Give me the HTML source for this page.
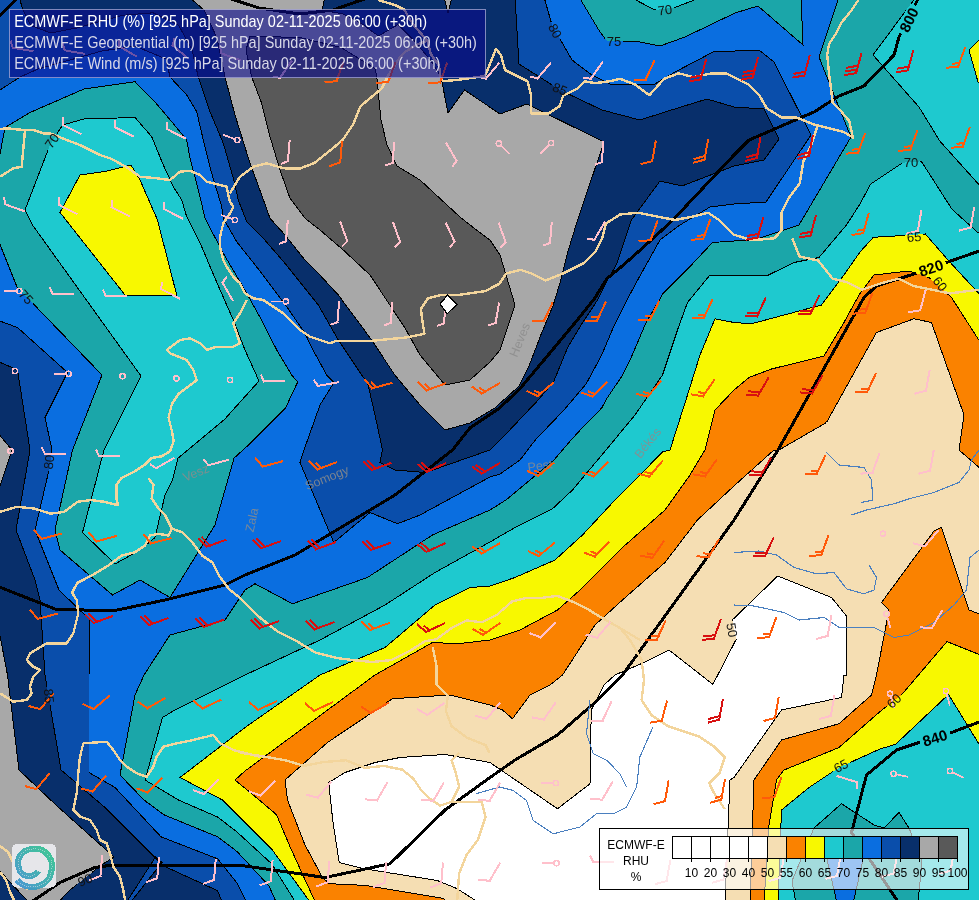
<!DOCTYPE html>
<html><head><meta charset="utf-8"><style>
html,body{margin:0;padding:0;background:#fff;}
svg{display:block;}
text{font-family:"Liberation Sans",sans-serif;}
svg text{opacity:0.999;}
</style></head><body>
<svg width="979" height="900" viewBox="0 0 979 900" shape-rendering="crispEdges">
<rect x="0" y="0" width="979" height="900" fill="#1ba6a9"/>
<polygon points="-3,-3 579,-3 600,32 607,41 640,42 660,46 685,37 735,13 758,6 803,45 801,-3 839,-3 819,57 836,100 851,137 799,225 754,240 734,241 712.5,242.5 690,266.5 663.2,293.3 646,322.7 631.4,356.9 621.6,376.5 606.9,398.5 601.7,408 580,430.3 571.1,440 554,460 530,480 506,500 490,510 432.5,535 367.5,577.5 292.5,603.75 255,583.75 245,590 225,620 170,635 144,675 135,695 120,775 144,800 163.7,814.7 217.6,836.8 237,851.5 269,885.8 276.5,903 -3,903" fill="#0a6ee0"/>
<polygon points="-3,-3 544,-3 552,25 572,60 592,75 610,84 655,84 675,72 715,51 735,51 759,50 774,62 811,135 766,202 734,204 710,207 680,225 660,240 641.1,273.8 626.5,300.7 614.3,325.1 601.7,355 586.4,383.5 564.9,409 535.3,440 520,460 500,474 490,477 420,515 397.5,523.75 370,512.5 333.75,542.5 327.5,527.5 300,462.5 304,450 320,405 334,382.5 326.7,375 313,350 305,333.3 286.7,306.7 261.7,273.3 236.7,241.7 223.3,218.3 221.7,206.7 211.7,173.3 203.3,140 196.7,111.7 186.7,95 170,77 166,59 135,46 102,51 38,69 20,77 -3,92" fill="#0a4eab"/>
<polygon points="-3,320 17.5,327.5 67.5,372.5 45,417.5 52,450 49,470 35,530 59,590 90,620 89,675 89,772.5 115,787.5 161,836.8 217.6,858.8 237,883 247,903 -3,903" fill="#0a4eab"/>
<polygon points="19,-3 515,-3 519,64 560,90 602,110 640,120 665,112 707,99 734,107 764,109 779,139 764,160 734,166 682,186 660,181 631.4,220 616.7,264 606.9,281.1 597.1,300.7 582.5,322.7 567.8,347.1 553.7,381.5 537.4,400.9 520,419.2 505,435 490,450 440,467.5 425,472.5 395,470 380,462.5 382.5,450 375,415 367.5,382.5 361.7,375 338.3,340 318.3,305 285,263.3 263.3,238.3 246.7,221.7 238.3,200 233.3,178.3 223.3,143.3 210,111.7 198.3,77 192,50 178.8,25.5 153,12.8 122.6,15.3 76.6,28 51,33 30.6,25.5 23,10" fill="#082f6b"/>
<polygon points="-3,361 17.5,370 30,450 16,530 35,580 40,600 45,675 61,770 105,807.5 155,857.5 163.7,866 217.6,890.7 222.5,903 -3,903" fill="#082f6b"/>
<polygon points="155.5,857 162,862.5 130,903 126,903" fill="#0a4eab"/>
<polygon points="189,-3 325,-3 322,10 343,14 361.5,23.5 378.4,36 398,24.5 414.4,40.8 430.7,60.5 441,77 448,113 464.5,90 500,114 527,104 604,142 577.6,220 567.8,251.8 560.5,281.1 553.1,305.6 540.9,334.9 528.7,366.7 518.9,386.3 494.4,408.3 470,423 445,430 420,405 394.8,375 371.7,340 338.3,295 318.3,273.3 303.3,258 285,235 270,218.3 261.7,195 250,163.3 235,115 225,77 217,38 204,10" fill="#a8a8a8"/>
<polygon points="444,-3 452,-3 448,13" fill="#a8a8a8"/>
<polygon points="-3,432 12,450 -3,495" fill="#a8a8a8"/>
<polygon points="-3,620 7.5,675 19,770 57,806 114,857 100,866 70,890 57.5,903 29.5,903 -3,868" fill="#a8a8a8"/>
<polygon points="250,36 300,37.6 340.8,47.4 375.2,68.6 376.8,77 381,120 387,145 397,166 420,180 460,217 470,225 490,240 500,255 515,305 500,350 490,362 470,380 445,385 420,355 405,328 370,275 343.3,250 320,230 305,218.3 290,198.3 280,170 270,136.7 261.7,103.3 251.7,77 246,50" fill="#595959"/>
<polygon points="-3,170 5,127.5 30,112.5 84,89 135,81.7 153.3,100 171.7,121.7 186.7,140 190,158.3 196.7,183.3 200.8,200 205,218.3 223.3,253.3 246.7,293.3 263.3,323.3 276.7,350 291.7,375 297.7,382 285.3,408.4 251.1,442.6 234,458.2 227.8,480 215,525 170,597.5 140,580 112.5,595 60,550 55,530 72.5,450 102,375 17,287 -3,237" fill="#1ba6a9"/>
<polygon points="84,119 135,117.5 151.7,136.7 163.3,165 173.3,186.7 181.7,200 186.7,216.7 201.7,246.7 215,278.3 233.3,320 245,350 259,381 224.6,419.3 178,458.2 172.6,480 165,495 155,537.5 140,550 115,564 82.5,532.5 104,450 141,376 32.5,225 25,210 50,145 62.5,125" fill="#1ec9cf"/>
<polygon points="80,175 107.5,171 131,165 140,180 157.5,220 176.7,295 125,295 60,212.5" fill="#f8f800"/>
<polygon points="916,-3 982,-3 982,188 940,141.3 919,107 873,55" fill="#1ec9cf"/>
<polygon points="630,-3 655,10 675,7.5 702,-3" fill="#1ec9cf"/>
<polygon points="982,37 969,50 978,82 982,82" fill="#f8f800"/>
<polygon points="982,232 977.3,232 952,209.3 921.3,161.3 902.7,162.7 870.7,184 860,204 846.5,225 819,257.5 794,262.5 766.5,276 734,275 710,275 687.5,302.5 677.5,330 662.5,375 635,415 606,450 572.5,490 552.5,508.75 515,527.5 490,542 435,572.5 385,605 320,640 245,675 175,710 162.5,717.5 145,780 178.4,800 217.6,817 237,832 271.6,863.7 296,903 982,903" fill="#1ec9cf"/>
<polygon points="796,903 792,881 814,828 841.5,803.75 874,825 884,828 899,812.5 909,828 922,861 918,903" fill="#1ba6a9"/>
<polygon points="826.7,858 863.3,858 853.2,903 837,903" fill="#0a6ee0"/>
<polygon points="982,297 948,260 925.3,234 906.7,235.3 873.3,237.3 860,252 844,275 821.5,305 751.5,323.75 734,322.5 715,318.75 700,355 687.5,395 670,450 662.5,452 635,480 615,500 582.5,535 555,560 515,577.5 490,586 470,587.5 435,605 385,647.5 320,675 245,727.5 180,777.5 222.5,800 237,814.7 271.6,849 310.8,903 778,903 781.5,810 809,787.5 839,767.5 880,749 895.6,744.3 948.5,694.5 982,749" fill="#f8f800"/>
<polygon points="235,780 245,771 375,675 432.5,642.5 457.5,643.75 490,640 520,630 557.5,610 580,590 622.5,547.5 665,510 690,475 705,450 715,410 734,390 749,377.5 771.5,369 824,356 844,322.5 859,295 874,275 909,271 929,277.5 951.5,297.5 982,345 982,655.6 947,641.6 901.8,694.5 880,711.6 839,747.5 784,770 776.5,780 769,825 764,903 315.7,903 291,849 276.5,814.7 259.3,800" fill="#fa8200"/>
<polygon points="285,780 327.5,742.5 392.5,698.75 450,695 490,705 502.5,710 512.5,718.75 530,695 550,685 562.5,675 595,625 622.5,600 665,562.5 697.5,520 735,485 774,450 779,450 826.5,422.5 876.5,332.5 914,318.75 931.5,322.5 964,415 959,450 982,470 982,615 969,610 941.5,527.5 934,531 881.5,602.5 889,610 876.5,675 871.5,695 839,723.75 781.5,740 754,780 750,903 447,903 443.8,898.4 365.4,885.4 329.4,883.7 322.5,877.5 305,845 287.5,800" fill="#f5deb3"/>
<polygon points="328.75,782.5 345,772.5 375,762.5 400,757.5 445,754.5 490,762.5 557.5,808.75 590,783.75 591.25,710 604,685 615,675 644,662.5 669,650 712.9,684.4 736.2,639.3 732.3,620 777.75,576 831.5,597.5 846.5,616 846.5,675 844,675 841.5,697.5 781.5,710 734,777.5 730,780 725,903 479.7,903 456.9,888.6 437.3,880.5 365.4,869 339.2,862.5 332.7,820" fill="#ffffff"/>
<mask id="lm" maskUnits="userSpaceOnUse" x="-10" y="-10" width="1000" height="920"><rect x="-10" y="-10" width="1000" height="920" fill="#fff"/>
<rect x="-15.75" y="-7" width="31.5" height="14" fill="#000" transform="translate(909,20) rotate(-64)"/>
<rect x="-15.75" y="-7" width="31.5" height="14" fill="#000" transform="translate(931,268) rotate(-19)"/>
<rect x="-15.75" y="-7" width="31.5" height="14" fill="#000" transform="translate(935,738) rotate(-17)"/>
<rect x="-9.2" y="-6" width="18.4" height="12" fill="#000" transform="translate(665,10) rotate(-8)"/>
<rect x="-9.2" y="-6" width="18.4" height="12" fill="#000" transform="translate(614,41) rotate(0)"/>
<rect x="-9.2" y="-6" width="18.4" height="12" fill="#000" transform="translate(555,31) rotate(62)"/>
<rect x="-9.2" y="-6" width="18.4" height="12" fill="#000" transform="translate(560,89) rotate(22)"/>
<rect x="-9.2" y="-6" width="18.4" height="12" fill="#000" transform="translate(911,162) rotate(0)"/>
<rect x="-9.2" y="-6" width="18.4" height="12" fill="#000" transform="translate(914,237) rotate(-5)"/>
<rect x="-9.2" y="-6" width="18.4" height="12" fill="#000" transform="translate(940,284) rotate(52)"/>
<rect x="-9.2" y="-6" width="18.4" height="12" fill="#000" transform="translate(26,297) rotate(48)"/>
<rect x="-9.2" y="-6" width="18.4" height="12" fill="#000" transform="translate(49,462) rotate(-82)"/>
<rect x="-9.2" y="-6" width="18.4" height="12" fill="#000" transform="translate(49,696) rotate(84)"/>
<rect x="-9.2" y="-6" width="18.4" height="12" fill="#000" transform="translate(732,630) rotate(80)"/>
<rect x="-9.2" y="-6" width="18.4" height="12" fill="#000" transform="translate(841,766) rotate(-28)"/>
<rect x="-9.2" y="-6" width="18.4" height="12" fill="#000" transform="translate(894,701) rotate(-42)"/>
<rect x="-9.2" y="-6" width="18.4" height="12" fill="#000" transform="translate(85,880) rotate(-22)"/>
<rect x="-9.2" y="-6" width="18.4" height="12" fill="#000" transform="translate(52,141) rotate(-55)"/>
</mask>
<g mask="url(#lm)">
<polygon points="-3,-3 579,-3 600,32 607,41 640,42 660,46 685,37 735,13 758,6 803,45 801,-3 839,-3 819,57 836,100 851,137 799,225 754,240 734,241 712.5,242.5 690,266.5 663.2,293.3 646,322.7 631.4,356.9 621.6,376.5 606.9,398.5 601.7,408 580,430.3 571.1,440 554,460 530,480 506,500 490,510 432.5,535 367.5,577.5 292.5,603.75 255,583.75 245,590 225,620 170,635 144,675 135,695 120,775 144,800 163.7,814.7 217.6,836.8 237,851.5 269,885.8 276.5,903 -3,903" fill="none" stroke="#000" stroke-width="1"/>
<polygon points="-3,-3 544,-3 552,25 572,60 592,75 610,84 655,84 675,72 715,51 735,51 759,50 774,62 811,135 766,202 734,204 710,207 680,225 660,240 641.1,273.8 626.5,300.7 614.3,325.1 601.7,355 586.4,383.5 564.9,409 535.3,440 520,460 500,474 490,477 420,515 397.5,523.75 370,512.5 333.75,542.5 327.5,527.5 300,462.5 304,450 320,405 334,382.5 326.7,375 313,350 305,333.3 286.7,306.7 261.7,273.3 236.7,241.7 223.3,218.3 221.7,206.7 211.7,173.3 203.3,140 196.7,111.7 186.7,95 170,77 166,59 135,46 102,51 38,69 20,77 -3,92" fill="none" stroke="#000" stroke-width="1"/>
<polygon points="-3,320 17.5,327.5 67.5,372.5 45,417.5 52,450 49,470 35,530 59,590 90,620 89,675 89,772.5 115,787.5 161,836.8 217.6,858.8 237,883 247,903 -3,903" fill="none" stroke="#000" stroke-width="1"/>
<polygon points="19,-3 515,-3 519,64 560,90 602,110 640,120 665,112 707,99 734,107 764,109 779,139 764,160 734,166 682,186 660,181 631.4,220 616.7,264 606.9,281.1 597.1,300.7 582.5,322.7 567.8,347.1 553.7,381.5 537.4,400.9 520,419.2 505,435 490,450 440,467.5 425,472.5 395,470 380,462.5 382.5,450 375,415 367.5,382.5 361.7,375 338.3,340 318.3,305 285,263.3 263.3,238.3 246.7,221.7 238.3,200 233.3,178.3 223.3,143.3 210,111.7 198.3,77 192,50 178.8,25.5 153,12.8 122.6,15.3 76.6,28 51,33 30.6,25.5 23,10" fill="none" stroke="#000" stroke-width="1"/>
<polygon points="-3,361 17.5,370 30,450 16,530 35,580 40,600 45,675 61,770 105,807.5 155,857.5 163.7,866 217.6,890.7 222.5,903 -3,903" fill="none" stroke="#000" stroke-width="1"/>
<polygon points="155.5,857 162,862.5 130,903 126,903" fill="none" stroke="#000" stroke-width="1"/>
<polygon points="189,-3 325,-3 322,10 343,14 361.5,23.5 378.4,36 398,24.5 414.4,40.8 430.7,60.5 441,77 448,113 464.5,90 500,114 527,104 604,142 577.6,220 567.8,251.8 560.5,281.1 553.1,305.6 540.9,334.9 528.7,366.7 518.9,386.3 494.4,408.3 470,423 445,430 420,405 394.8,375 371.7,340 338.3,295 318.3,273.3 303.3,258 285,235 270,218.3 261.7,195 250,163.3 235,115 225,77 217,38 204,10" fill="none" stroke="#000" stroke-width="1"/>
<polygon points="444,-3 452,-3 448,13" fill="none" stroke="#000" stroke-width="1"/>
<polygon points="-3,432 12,450 -3,495" fill="none" stroke="#000" stroke-width="1"/>
<polygon points="-3,620 7.5,675 19,770 57,806 114,857 100,866 70,890 57.5,903 29.5,903 -3,868" fill="none" stroke="#000" stroke-width="1"/>
<polygon points="250,36 300,37.6 340.8,47.4 375.2,68.6 376.8,77 381,120 387,145 397,166 420,180 460,217 470,225 490,240 500,255 515,305 500,350 490,362 470,380 445,385 420,355 405,328 370,275 343.3,250 320,230 305,218.3 290,198.3 280,170 270,136.7 261.7,103.3 251.7,77 246,50" fill="none" stroke="#000" stroke-width="1"/>
<polygon points="-3,170 5,127.5 30,112.5 84,89 135,81.7 153.3,100 171.7,121.7 186.7,140 190,158.3 196.7,183.3 200.8,200 205,218.3 223.3,253.3 246.7,293.3 263.3,323.3 276.7,350 291.7,375 297.7,382 285.3,408.4 251.1,442.6 234,458.2 227.8,480 215,525 170,597.5 140,580 112.5,595 60,550 55,530 72.5,450 102,375 17,287 -3,237" fill="none" stroke="#000" stroke-width="1"/>
<polygon points="84,119 135,117.5 151.7,136.7 163.3,165 173.3,186.7 181.7,200 186.7,216.7 201.7,246.7 215,278.3 233.3,320 245,350 259,381 224.6,419.3 178,458.2 172.6,480 165,495 155,537.5 140,550 115,564 82.5,532.5 104,450 141,376 32.5,225 25,210 50,145 62.5,125" fill="none" stroke="#000" stroke-width="1"/>
<polygon points="80,175 107.5,171 131,165 140,180 157.5,220 176.7,295 125,295 60,212.5" fill="none" stroke="#000" stroke-width="1"/>
<polygon points="916,-3 982,-3 982,188 940,141.3 919,107 873,55" fill="none" stroke="#000" stroke-width="1"/>
<polygon points="630,-3 655,10 675,7.5 702,-3" fill="none" stroke="#000" stroke-width="1"/>
<polygon points="982,37 969,50 978,82 982,82" fill="none" stroke="#000" stroke-width="1"/>
<polygon points="982,232 977.3,232 952,209.3 921.3,161.3 902.7,162.7 870.7,184 860,204 846.5,225 819,257.5 794,262.5 766.5,276 734,275 710,275 687.5,302.5 677.5,330 662.5,375 635,415 606,450 572.5,490 552.5,508.75 515,527.5 490,542 435,572.5 385,605 320,640 245,675 175,710 162.5,717.5 145,780 178.4,800 217.6,817 237,832 271.6,863.7 296,903 982,903" fill="none" stroke="#000" stroke-width="1"/>
<polygon points="796,903 792,881 814,828 841.5,803.75 874,825 884,828 899,812.5 909,828 922,861 918,903" fill="none" stroke="#000" stroke-width="1"/>
<polygon points="826.7,858 863.3,858 853.2,903 837,903" fill="none" stroke="#000" stroke-width="1"/>
<polygon points="982,297 948,260 925.3,234 906.7,235.3 873.3,237.3 860,252 844,275 821.5,305 751.5,323.75 734,322.5 715,318.75 700,355 687.5,395 670,450 662.5,452 635,480 615,500 582.5,535 555,560 515,577.5 490,586 470,587.5 435,605 385,647.5 320,675 245,727.5 180,777.5 222.5,800 237,814.7 271.6,849 310.8,903 778,903 781.5,810 809,787.5 839,767.5 880,749 895.6,744.3 948.5,694.5 982,749" fill="none" stroke="#000" stroke-width="1"/>
<polygon points="235,780 245,771 375,675 432.5,642.5 457.5,643.75 490,640 520,630 557.5,610 580,590 622.5,547.5 665,510 690,475 705,450 715,410 734,390 749,377.5 771.5,369 824,356 844,322.5 859,295 874,275 909,271 929,277.5 951.5,297.5 982,345 982,655.6 947,641.6 901.8,694.5 880,711.6 839,747.5 784,770 776.5,780 769,825 764,903 315.7,903 291,849 276.5,814.7 259.3,800" fill="none" stroke="#000" stroke-width="1"/>
<polygon points="285,780 327.5,742.5 392.5,698.75 450,695 490,705 502.5,710 512.5,718.75 530,695 550,685 562.5,675 595,625 622.5,600 665,562.5 697.5,520 735,485 774,450 779,450 826.5,422.5 876.5,332.5 914,318.75 931.5,322.5 964,415 959,450 982,470 982,615 969,610 941.5,527.5 934,531 881.5,602.5 889,610 876.5,675 871.5,695 839,723.75 781.5,740 754,780 750,903 447,903 443.8,898.4 365.4,885.4 329.4,883.7 322.5,877.5 305,845 287.5,800" fill="none" stroke="#000" stroke-width="1"/>
<polygon points="328.75,782.5 345,772.5 375,762.5 400,757.5 445,754.5 490,762.5 557.5,808.75 590,783.75 591.25,710 604,685 615,675 644,662.5 669,650 712.9,684.4 736.2,639.3 732.3,620 777.75,576 831.5,597.5 846.5,616 846.5,675 844,675 841.5,697.5 781.5,710 734,777.5 730,780 725,903 479.7,903 456.9,888.6 437.3,880.5 365.4,869 339.2,862.5 332.7,820" fill="none" stroke="#000" stroke-width="1"/>
<polyline points="-3,18 19,-3" fill="none" stroke="#000" stroke-width="3" stroke-linejoin="round"/>
<polyline points="225,-3 259,8 300,14 333,10 370,-3" fill="none" stroke="#000" stroke-width="3" stroke-linejoin="round"/>
<polyline points="919,-3 899,37 894,55 864,86 839,96 814,112 749,140 734,155 672.9,220 641.1,249.3 621.6,266.5 606.9,278.7 594.7,298.2 575.1,322.7 550.7,352 520,388.6 499.3,408.3 470,427.8 452.5,450 395,495 345,525 295,555 245,575 225,585 165,600 112.5,611 55,609 -3,586" fill="none" stroke="#000" stroke-width="3" stroke-linejoin="round"/>
<polyline points="982,250 946.5,262.5 914,274 876.5,286 864,297.5 778,450 734,520 622.5,675 595,702.5 557.5,735 515,760 490,777.5 445,810 390,863.75 325,877.5 245,866 217.6,865 112.5,865 95,867.5 60,882.5 30,903" fill="none" stroke="#000" stroke-width="3" stroke-linejoin="round"/>
<polyline points="982,721 951.5,732.5 919,742.5 896.5,750 866.5,775 851.5,832.5 899,903" fill="none" stroke="#000" stroke-width="3" stroke-linejoin="round"/>
</g>
<polyline points="851.5,515.0 866.5,510.0 894.0,503.8 909.0,498.8 934.0,492.5 959.0,482.5 969.0,470.0 971.5,460.0 979.0,450.0" fill="none" stroke="#4a7fbf" stroke-width="1.1" stroke-linejoin="round"/>
<polyline points="734.0,552.5 759.0,551.0 776.5,555.0 794.0,567.5 816.5,573.8 834.0,572.5 846.5,588.8 864.0,593.8 874.0,590.0 876.5,577.5 869.0,565.0" fill="none" stroke="#4a7fbf" stroke-width="1.1" stroke-linejoin="round"/>
<polyline points="734.0,605.0 754.0,606.0 784.0,612.5 799.0,620.0 824.0,617.5 839.0,627.5 874.0,627.5 894.0,637.5 909.0,635.0 934.0,622.5 954.0,605.0 966.5,590.0 970.0,557.5 979.0,550.0" fill="none" stroke="#4a7fbf" stroke-width="1.1" stroke-linejoin="round"/>
<polyline points="826.5,452.5 839.0,465.0 864.0,467.5 871.5,480.0 872.8,500.0 861.5,502.5" fill="none" stroke="#4a7fbf" stroke-width="1.1" stroke-linejoin="round"/>
<polyline points="476.3,793.7 499.7,787.0 513.0,790.4 526.4,800.4 533.1,820.4 553.1,833.8 579.8,827.1 596.5,813.8 613.2,813.8 626.6,807.1 636.6,787.0 639.9,757.0 653.0,726.9" fill="none" stroke="#4a7fbf" stroke-width="1.1" stroke-linejoin="round"/>
<polyline points="589.9,700.2 586.5,733.6 593.2,753.6 606.6,760.3 619.9,773.7 626.6,787.0" fill="none" stroke="#4a7fbf" stroke-width="1.1" stroke-linejoin="round"/>
<polyline points="0.0,129.0 6.7,128.3 23.3,130.0 33.3,130.0 43.3,133.3 50.0,133.3 58.3,136.7 66.7,140.0 80.0,145.0 90.0,150.0 100.0,155.0 110.0,158.3 116.7,161.7 126.7,167.3 140.0,176.7 156.7,178.3 170.0,180.0 180.0,171.7 190.0,170.7 200.0,175.0 206.7,181.7 220.0,185.0 226.7,186.7 228.3,195.0 230.0,201.7 233.3,206.7 230.0,213.3 223.3,223.3 220.0,236.7 220.0,246.7 223.3,260.0 226.7,266.7 233.3,276.7 240.0,283.3 245.0,293.3 253.3,298.3 263.3,300.0 273.3,306.7 283.3,313.3 290.0,320.0 300.0,330.0 310.0,336.7 330.0,343.4 335.6,340.9 371.1,340.9 406.7,337.4 424.5,333.8 422.7,323.2 420.9,309.0 428.0,298.3 442.2,294.7 460.0,294.7 484.9,291.2 499.1,284.0 506.3,273.4 520.5,269.8 531.1,273.4 545.4,280.5 563.2,273.4 584.5,262.7 595.2,252.0 602.3,237.8 605.8,223.6 620.0,214.5 638.3,212.7 656.7,216.4 675.0,220.0 693.3,216.4 708.0,212.7 719.0,220.0 733.7,234.7 752.0,240.2 774.0,238.4 781.3,231.0 781.3,212.7 788.7,198.0 799.7,183.4 803.4,161.3 810.7,146.7 818.0,124.7" fill="none" stroke="#f3d59c" stroke-width="2.4" stroke-linejoin="round"/>
<polyline points="230.0,193.3 240.0,176.7 253.3,166.7 266.7,163.3 283.3,168.3 300.0,168.5 314.2,163.1 332.0,148.9 342.7,140.0 353.3,124.0 360.5,106.2 371.1,97.3 381.8,88.4 388.9,74.2 394.2,67.1 397.8,60.0 405.0,52.0 416.0,45.0 427.5,40.8" fill="none" stroke="#f3d59c" stroke-width="2.4" stroke-linejoin="round"/>
<polyline points="25.0,130.0 21.7,166.7 13.3,168.3 0.0,176.7" fill="none" stroke="#f3d59c" stroke-width="2.4" stroke-linejoin="round"/>
<polyline points="246.7,300.0 240.0,313.3 233.3,323.3 236.7,333.3 240.0,343.3 233.3,346.7 216.7,346.7 206.7,350.0 200.0,343.3 190.0,338.3 180.0,340.0 166.7,350.0 170.0,353.3 186.7,360.0 193.3,370.0 196.7,380.0 192.1,383.8 178.6,393.9 171.9,404.0 168.5,417.5 171.9,431.0 173.6,441.1 170.2,451.2 161.8,456.3 151.7,458.0 144.9,464.7 134.8,471.4 121.3,478.2 116.3,484.9 116.3,498.4 118.0,505.2 104.5,501.8 91.0,500.1 77.5,501.8 64.0,511.9 50.6,513.6 33.7,508.5 16.9,506.8 0.0,511.9" fill="none" stroke="#f3d59c" stroke-width="2.4" stroke-linejoin="round"/>
<polyline points="148.3,478.2 153.4,484.9 151.7,498.4 158.4,508.5 165.1,515.3 171.9,528.7 168.5,535.5 158.4,533.8 150.0,535.5 144.9,545.6 134.8,552.3 121.3,555.7 107.9,565.8 91.0,575.9 77.5,582.7 72.0,592.8 76.7,600.0 78.3,613.3 73.3,633.3 66.7,643.3 46.7,643.3 30.0,653.3 26.7,660.0 33.3,666.7 40.0,670.0 33.3,676.7 30.0,686.7 31.7,693.3 26.7,700.0 13.3,701.7 0.0,693.3" fill="none" stroke="#f3d59c" stroke-width="2.4" stroke-linejoin="round"/>
<polyline points="171.9,528.7 182.0,532.1 192.1,542.2 202.2,555.7 212.3,562.4 219.1,575.9 229.2,589.4 240.0,597.8 258.9,616.7 277.8,631.8 296.7,641.2 315.6,652.6 338.2,658.2 353.3,660.1 372.2,662.0 391.1,660.1 410.0,650.7 425.1,641.2 436.4,639.3 451.6,628.0 466.7,620.4 481.8,622.3 496.9,614.8 512.0,601.6 527.1,597.8 542.2,597.8 557.3,595.9 572.4,601.6 587.6,609.1 600.0,616.7 620.0,628.0 640.0,640.0" fill="none" stroke="#f3d59c" stroke-width="2.4" stroke-linejoin="round"/>
<polyline points="432.7,646.9 436.4,665.8 436.4,684.7 447.8,696.0 445.9,711.1 451.6,726.2 466.7,737.6 485.6,745.1 489.3,752.7" fill="none" stroke="#f3d59c" stroke-width="2.4" stroke-linejoin="round"/>
<polyline points="240.0,752.7 262.7,756.4 285.3,760.2 304.2,765.9 323.1,762.1 345.8,760.2 364.7,767.8 383.6,765.9 402.4,769.7 413.8,779.1 421.3,790.5 428.9,798.0 440.2,805.6 451.6,801.8 459.1,786.7 455.3,771.6 451.6,760.2 459.1,752.7" fill="none" stroke="#f3d59c" stroke-width="2.4" stroke-linejoin="round"/>
<polyline points="451.6,801.8 466.7,801.8 481.8,801.8 485.6,816.9 478.0,839.6 466.7,854.7 459.1,873.6 457.2,900.0" fill="none" stroke="#f3d59c" stroke-width="2.4" stroke-linejoin="round"/>
<polyline points="83.3,743.3 106.7,741.7 113.3,750.0 120.0,760.0 126.7,766.7 136.7,773.3 146.7,776.7 153.3,766.7 156.7,756.7 163.3,746.7 176.7,743.3 193.3,740.0 206.7,736.7 213.3,735.0 220.0,743.3 233.3,750.0 246.7,753.3 260.0,756.7" fill="none" stroke="#f3d59c" stroke-width="2.4" stroke-linejoin="round"/>
<polyline points="83.3,743.3 80.0,756.7 78.3,773.3 76.7,793.3 73.3,810.0 80.0,816.7 90.0,820.0 96.7,830.0 100.0,840.0 106.7,843.3 110.0,853.3 113.3,866.7 120.0,876.7 123.3,890.0 125.0,900.0" fill="none" stroke="#f3d59c" stroke-width="2.4" stroke-linejoin="round"/>
<polyline points="641.6,700.0 652.0,715.6 667.6,726.0 683.2,731.2 698.8,736.4 714.4,746.8 724.8,757.2 719.6,772.8 709.2,783.2 714.4,793.6 724.8,809.2" fill="none" stroke="#f3d59c" stroke-width="2.4" stroke-linejoin="round"/>
<polyline points="620.0,628.0 630.0,640.0 641.6,660.0 644.0,680.0 641.6,700.0" fill="none" stroke="#f3d59c" stroke-width="2.4" stroke-linejoin="round"/>
<polyline points="527.6,81.3 531.1,95.6 531.1,113.3 548.9,113.3 559.6,106.2 563.2,95.6 577.4,88.4 584.5,81.3 595.2,83.1 609.4,81.3 620.0,78.8 634.7,84.3 649.3,95.3 664.0,78.8 678.7,73.3 693.3,77.0 711.7,73.3 726.3,73.3 737.3,78.8 748.3,84.3 759.3,95.3 766.7,108.2 781.3,117.3 796.0,117.3 814.4,124.7 829.0,128.3 843.7,132.0 852.9,137.5 849.2,121.0 840.0,110.0 832.7,102.7 830.9,88.0 829.0,73.3 827.2,55.0 829.0,44.0 836.4,33.0 841.9,22.0 851.0,11.0 858.4,0.0" fill="none" stroke="#f3d59c" stroke-width="2.4" stroke-linejoin="round"/>
<polyline points="442.0,81.3 460.0,79.6 485.0,76.0 496.0,49.0 501.0,55.0 505.0,70.0 512.0,73.5 527.6,81.3" fill="none" stroke="#f3d59c" stroke-width="2.4" stroke-linejoin="round"/>
<polyline points="378.0,0.0 395.0,5.0 404.6,9.8 407.8,16.3 414.4,26.1 427.5,40.8 430.7,53.9 438.9,65.4 440.5,76.8 442.0,81.3" fill="none" stroke="#f3d59c" stroke-width="2.4" stroke-linejoin="round"/>
<polyline points="792.3,238.4 799.7,256.7 818.0,260.4 832.7,278.7 847.4,282.4 862.0,289.7 884.0,282.4 898.7,278.7 913.4,286.0 931.7,289.7 950.0,293.4 979.0,289.7" fill="none" stroke="#f3d59c" stroke-width="2.4" stroke-linejoin="round"/>
<polyline points="0.0,846.0 8.0,852.0 14.0,864.0 22.0,878.0 28.0,890.0" fill="none" stroke="#f3d59c" stroke-width="2.4" stroke-linejoin="round"/>
<polyline points="0.0,872.0 6.0,880.0 10.0,892.0 14.0,900.0" fill="none" stroke="#f3d59c" stroke-width="2.4" stroke-linejoin="round"/>
<g transform="translate(520,340) rotate(-68)"><text x="0" y="4" text-anchor="middle" font-size="12.5" fill="#8c8c8c" fill-opacity="0.85">Heves</text></g>
<g transform="translate(648,443) rotate(-52)"><text x="0" y="4" text-anchor="middle" font-size="12.5" fill="#8c8c8c" fill-opacity="0.85">Békés</text></g>
<g transform="translate(540,466) rotate(-8)"><text x="0" y="4" text-anchor="middle" font-size="12.5" fill="#8c8c8c" fill-opacity="0.85">Pest</text></g>
<g transform="translate(327,478) rotate(-22)"><text x="0" y="4" text-anchor="middle" font-size="12.5" fill="#8c8c8c" fill-opacity="0.85">Somogy</text></g>
<g transform="translate(252,520) rotate(-78)"><text x="0" y="4" text-anchor="middle" font-size="12.5" fill="#8c8c8c" fill-opacity="0.85">Zala</text></g>
<g transform="translate(196,473) rotate(-22)"><text x="0" y="4" text-anchor="middle" font-size="12.5" fill="#8c8c8c" fill-opacity="0.85">Vesz</text></g>
<path d="M32.5,51.0 L12.7,47.9 M12.7,47.9 l-1.8,-6.2" fill="none" stroke="#ffc0cb" stroke-width="2" stroke-linecap="square"/>
<path d="M84.3,53.8 L64.6,50.3 M64.6,50.3 l-1.7,-6.3" fill="none" stroke="#ffc0cb" stroke-width="2" stroke-linecap="square"/>
<path d="M136.1,56.2 L118.8,46.2 M118.8,46.2 l0.6,-6.5" fill="none" stroke="#ffc0cb" stroke-width="2" stroke-linecap="square"/>
<path d="M187.9,58.3 L172.6,45.4 M172.6,45.4 l1.7,-6.3" fill="none" stroke="#ffc0cb" stroke-width="2" stroke-linecap="square"/>
<path d="M239.7,60.0 L220.9,53.2 M220.9,53.2 l-0.6,-6.5" fill="none" stroke="#ffc0cb" stroke-width="2" stroke-linecap="square"/>
<path d="M291.5,61.4 L280.0,77.8 M280.0,77.8 l-6.4,-1.1" fill="none" stroke="#ffc0cb" stroke-width="2" stroke-linecap="square"/>
<path d="M343.3,62.4 L336.5,81.2 M336.5,81.2 l-11.0,1.0" fill="none" stroke="#ff5a0a" stroke-width="2" stroke-linecap="square"/>
<path d="M395.1,63.1 L388.3,81.9 M388.3,81.9 l-11.0,1.0" fill="none" stroke="#ff5a0a" stroke-width="2" stroke-linecap="square"/>
<path d="M446.9,63.5 L440.1,82.3 M440.1,82.3 l-11.0,1.0" fill="none" stroke="#ff5a0a" stroke-width="2" stroke-linecap="square"/>
<path d="M498.7,63.5 L485.8,78.8 M485.8,78.8 l-6.3,-1.7" fill="none" stroke="#ffc0cb" stroke-width="2" stroke-linecap="square"/>
<path d="M550.5,63.1 L537.6,78.4 M537.6,78.4 l-6.3,-1.7" fill="none" stroke="#ffc0cb" stroke-width="2" stroke-linecap="square"/>
<path d="M602.3,62.4 L590.8,78.8 M590.8,78.8 l-6.4,-1.1" fill="none" stroke="#ffc0cb" stroke-width="2" stroke-linecap="square"/>
<path d="M654.1,61.4 L645.6,79.5 M645.6,79.5 l-11.0,0.0" fill="none" stroke="#ff5a0a" stroke-width="2" stroke-linecap="square"/>
<path d="M705.9,60.0 L700.7,79.3 M700.7,79.3 l-10.8,1.9 M701.7,75.6 l-10.8,1.9" fill="none" stroke="#d81010" stroke-width="2" stroke-linecap="square"/>
<path d="M757.7,58.3 L752.5,77.6 M752.5,77.6 l-10.8,1.9 M753.5,73.9 l-10.8,1.9 M754.5,70.2 l-10.8,1.9" fill="none" stroke="#d81010" stroke-width="2" stroke-linecap="square"/>
<path d="M809.5,56.2 L804.3,75.5 M804.3,75.5 l-10.8,1.9 M805.3,71.8 l-10.8,1.9" fill="none" stroke="#d81010" stroke-width="2" stroke-linecap="square"/>
<path d="M861.3,53.8 L856.1,73.1 M856.1,73.1 l-10.8,1.9 M857.1,69.4 l-10.8,1.9 M858.1,65.7 l-10.8,1.9" fill="none" stroke="#d81010" stroke-width="2" stroke-linecap="square"/>
<path d="M913.1,51.0 L907.9,70.3 M907.9,70.3 l-10.8,1.9 M908.9,66.6 l-10.8,1.9" fill="none" stroke="#d81010" stroke-width="2" stroke-linecap="square"/>
<path d="M964.9,47.9 L958.1,66.7 M958.1,66.7 l-11.0,1.0 M959.4,63.1 l-6.5,0.6" fill="none" stroke="#ff5a0a" stroke-width="2" stroke-linecap="square"/>
<path d="M80.4,133.8 L62.6,124.7 M62.6,124.7 l0.2,-6.5" fill="none" stroke="#ffc0cb" stroke-width="2" stroke-linecap="square"/>
<path d="M132.7,136.2 L114.9,127.1 M114.9,127.1 l0.2,-6.5" fill="none" stroke="#ffc0cb" stroke-width="2" stroke-linecap="square"/>
<path d="M185.0,138.3 L167.2,129.2 M167.2,129.2 l0.2,-6.5" fill="none" stroke="#ffc0cb" stroke-width="2" stroke-linecap="square"/>
<circle cx="237.3" cy="140.0" r="2.6" fill="none" stroke="#ffc0cb" stroke-width="1.6"/>
<line x1="234.9" y1="139.1" x2="223.2" y2="134.9" stroke="#ffc0cb" stroke-width="1.8"/>
<path d="M289.6,141.4 L287.9,161.3 M287.9,161.3 l-6.1,2.2" fill="none" stroke="#ffc0cb" stroke-width="2" stroke-linecap="square"/>
<path d="M341.9,142.4 L340.2,162.3 M340.2,162.3 l-10.3,3.8" fill="none" stroke="#ff5a0a" stroke-width="2" stroke-linecap="square"/>
<path d="M394.2,143.1 L392.5,163.0 M392.5,163.0 l-6.1,2.2" fill="none" stroke="#ffc0cb" stroke-width="2" stroke-linecap="square"/>
<path d="M446.5,143.5 L456.5,160.8 M456.5,160.8 l-3.7,5.3" fill="none" stroke="#ffc0cb" stroke-width="2" stroke-linecap="square"/>
<circle cx="498.8" cy="143.5" r="2.6" fill="none" stroke="#ffc0cb" stroke-width="1.6"/>
<line x1="500.6" y1="145.3" x2="509.4" y2="154.1" stroke="#ffc0cb" stroke-width="1.8"/>
<circle cx="551.1" cy="143.1" r="2.6" fill="none" stroke="#ffc0cb" stroke-width="1.6"/>
<line x1="549.3" y1="144.9" x2="540.5" y2="153.7" stroke="#ffc0cb" stroke-width="1.8"/>
<path d="M603.4,142.4 L601.7,162.3 M601.7,162.3 l-6.1,2.2" fill="none" stroke="#ffc0cb" stroke-width="2" stroke-linecap="square"/>
<path d="M655.7,141.4 L652.2,161.1 M652.2,161.1 l-10.6,2.8" fill="none" stroke="#ff5a0a" stroke-width="2" stroke-linecap="square"/>
<path d="M708.0,140.0 L704.5,159.7 M704.5,159.7 l-10.6,2.8 M705.2,156.0 l-10.6,2.8" fill="none" stroke="#ff5a0a" stroke-width="2" stroke-linecap="square"/>
<path d="M760.3,138.3 L756.8,158.0 M756.8,158.0 l-10.6,2.8 M757.5,154.2 l-10.6,2.8" fill="none" stroke="#d81010" stroke-width="2" stroke-linecap="square"/>
<path d="M812.6,136.2 L809.1,155.9 M809.1,155.9 l-10.6,2.8 M809.8,152.1 l-10.6,2.8" fill="none" stroke="#d81010" stroke-width="2" stroke-linecap="square"/>
<path d="M864.9,133.8 L858.1,152.6 M858.1,152.6 l-11.0,1.0 M859.4,149.0 l-6.5,0.6" fill="none" stroke="#ff5a0a" stroke-width="2" stroke-linecap="square"/>
<path d="M917.2,131.0 L910.4,149.8 M910.4,149.8 l-11.0,1.0 M911.7,146.2 l-6.5,0.6" fill="none" stroke="#ff5a0a" stroke-width="2" stroke-linecap="square"/>
<path d="M969.5,127.9 L962.7,146.7 M962.7,146.7 l-11.0,1.0 M964.0,143.1 l-6.5,0.6" fill="none" stroke="#ff5a0a" stroke-width="2" stroke-linecap="square"/>
<path d="M23.7,211.0 L4.9,204.2 M4.9,204.2 l-0.6,-6.5" fill="none" stroke="#ffc0cb" stroke-width="2" stroke-linecap="square"/>
<path d="M76.5,213.8 L58.7,204.7 M58.7,204.7 l0.2,-6.5" fill="none" stroke="#ffc0cb" stroke-width="2" stroke-linecap="square"/>
<path d="M129.3,216.2 L111.5,207.1 M111.5,207.1 l0.2,-6.5" fill="none" stroke="#ffc0cb" stroke-width="2" stroke-linecap="square"/>
<path d="M182.1,218.3 L164.3,209.2 M164.3,209.2 l0.2,-6.5" fill="none" stroke="#ffc0cb" stroke-width="2" stroke-linecap="square"/>
<circle cx="234.9" cy="220.0" r="2.6" fill="none" stroke="#ffc0cb" stroke-width="1.6"/>
<line x1="232.5" y1="219.1" x2="220.8" y2="214.9" stroke="#ffc0cb" stroke-width="1.8"/>
<path d="M287.7,221.4 L286.0,241.3 M286.0,241.3 l-6.1,2.2" fill="none" stroke="#ffc0cb" stroke-width="2" stroke-linecap="square"/>
<path d="M340.5,222.4 L347.3,241.2 M347.3,241.2 l-4.6,4.6" fill="none" stroke="#ffc0cb" stroke-width="2" stroke-linecap="square"/>
<path d="M393.3,223.1 L400.1,241.9 M400.1,241.9 l-4.6,4.6" fill="none" stroke="#ffc0cb" stroke-width="2" stroke-linecap="square"/>
<path d="M446.1,223.5 L454.6,241.6 M454.6,241.6 l-4.2,5.0" fill="none" stroke="#ffc0cb" stroke-width="2" stroke-linecap="square"/>
<path d="M498.9,223.5 L505.7,242.3 M505.7,242.3 l-4.6,4.6" fill="none" stroke="#ffc0cb" stroke-width="2" stroke-linecap="square"/>
<path d="M551.7,223.1 L550.0,243.0 M550.0,243.0 l-6.1,2.2" fill="none" stroke="#ffc0cb" stroke-width="2" stroke-linecap="square"/>
<path d="M604.5,222.4 L594.5,239.7 M594.5,239.7 l-6.5,-0.6" fill="none" stroke="#ffc0cb" stroke-width="2" stroke-linecap="square"/>
<path d="M657.3,221.4 L650.5,240.2 M650.5,240.2 l-11.0,1.0" fill="none" stroke="#ff5a0a" stroke-width="2" stroke-linecap="square"/>
<path d="M710.1,220.0 L703.3,238.8 M703.3,238.8 l-11.0,1.0 M704.6,235.2 l-6.5,0.6" fill="none" stroke="#ff5a0a" stroke-width="2" stroke-linecap="square"/>
<path d="M762.9,218.3 L757.7,237.6 M757.7,237.6 l-10.8,1.9 M758.7,233.9 l-10.8,1.9" fill="none" stroke="#d81010" stroke-width="2" stroke-linecap="square"/>
<path d="M815.7,216.2 L810.5,235.5 M810.5,235.5 l-10.8,1.9 M811.5,231.8 l-10.8,1.9" fill="none" stroke="#d81010" stroke-width="2" stroke-linecap="square"/>
<path d="M868.5,213.8 L863.3,233.1 M863.3,233.1 l-10.8,1.9 M864.3,229.4 l-6.4,1.1" fill="none" stroke="#ff5a0a" stroke-width="2" stroke-linecap="square"/>
<path d="M921.3,211.0 L917.8,230.7 M917.8,230.7 l-10.6,2.8" fill="none" stroke="#ffc0cb" stroke-width="2" stroke-linecap="square"/>
<path d="M974.1,207.9 L970.6,227.6 M970.6,227.6 l-10.6,2.8" fill="none" stroke="#ffc0cb" stroke-width="2" stroke-linecap="square"/>
<circle cx="19.3" cy="291.0" r="2.6" fill="none" stroke="#ffc0cb" stroke-width="1.6"/>
<line x1="16.7" y1="291.0" x2="4.3" y2="291.0" stroke="#ffc0cb" stroke-width="1.8"/>
<path d="M72.6,293.8 L52.6,293.8 M52.6,293.8 l-2.7,-5.9" fill="none" stroke="#ffc0cb" stroke-width="2" stroke-linecap="square"/>
<path d="M125.9,296.2 L105.9,296.2 M105.9,296.2 l-2.7,-5.9" fill="none" stroke="#ffc0cb" stroke-width="2" stroke-linecap="square"/>
<path d="M179.2,298.3 L161.4,289.2 M161.4,289.2 l0.2,-6.5" fill="none" stroke="#ffc0cb" stroke-width="2" stroke-linecap="square"/>
<path d="M232.5,300.0 L222.5,282.7 M222.5,282.7 l3.7,-5.3" fill="none" stroke="#ffc0cb" stroke-width="2" stroke-linecap="square"/>
<circle cx="285.8" cy="301.4" r="2.6" fill="none" stroke="#ffc0cb" stroke-width="1.6"/>
<line x1="283.2" y1="301.4" x2="270.8" y2="301.4" stroke="#ffc0cb" stroke-width="1.8"/>
<path d="M339.1,302.4 L337.4,322.3 M337.4,322.3 l-6.1,2.2" fill="none" stroke="#ffc0cb" stroke-width="2" stroke-linecap="square"/>
<path d="M392.4,303.1 L390.7,323.0 M390.7,323.0 l-6.1,2.2" fill="none" stroke="#ffc0cb" stroke-width="2" stroke-linecap="square"/>
<path d="M445.7,303.5 L444.0,323.4 M444.0,323.4 l-6.1,2.2" fill="none" stroke="#ffc0cb" stroke-width="2" stroke-linecap="square"/>
<path d="M499.0,303.5 L495.5,323.2 M495.5,323.2 l-6.3,1.7" fill="none" stroke="#ffc0cb" stroke-width="2" stroke-linecap="square"/>
<path d="M552.3,303.1 L543.8,321.2 M543.8,321.2 l-11.0,0.0" fill="none" stroke="#ff5a0a" stroke-width="2" stroke-linecap="square"/>
<path d="M605.6,302.4 L597.1,320.5 M597.1,320.5 l-11.0,0.0 M598.8,317.1 l-6.5,0.0" fill="none" stroke="#ff5a0a" stroke-width="2" stroke-linecap="square"/>
<path d="M658.9,301.4 L650.4,319.5 M650.4,319.5 l-11.0,0.0 M652.1,316.1 l-6.5,0.0" fill="none" stroke="#ff5a0a" stroke-width="2" stroke-linecap="square"/>
<path d="M712.2,300.0 L703.7,318.1 M703.7,318.1 l-11.0,0.0 M705.4,314.7 l-6.5,0.0" fill="none" stroke="#ff5a0a" stroke-width="2" stroke-linecap="square"/>
<path d="M765.5,298.3 L757.0,316.4 M757.0,316.4 l-11.0,0.0 M758.7,312.9 l-11.0,0.0" fill="none" stroke="#d81010" stroke-width="2" stroke-linecap="square"/>
<path d="M818.8,296.2 L810.3,314.3 M810.3,314.3 l-11.0,0.0 M812.0,310.9 l-11.0,0.0" fill="none" stroke="#d81010" stroke-width="2" stroke-linecap="square"/>
<path d="M872.1,293.8 L865.3,312.6 M865.3,312.6 l-11.0,1.0 M866.6,309.0 l-6.5,0.6" fill="none" stroke="#ff5a0a" stroke-width="2" stroke-linecap="square"/>
<path d="M925.4,291.0 L920.2,310.3 M920.2,310.3 l-10.8,1.9" fill="none" stroke="#ffc0cb" stroke-width="2" stroke-linecap="square"/>
<circle cx="14.9" cy="371.0" r="2.6" fill="none" stroke="#ffc0cb" stroke-width="1.6"/>
<circle cx="68.7" cy="373.8" r="2.6" fill="none" stroke="#ffc0cb" stroke-width="1.6"/>
<line x1="66.1" y1="373.8" x2="53.7" y2="373.8" stroke="#ffc0cb" stroke-width="1.8"/>
<circle cx="122.5" cy="376.2" r="2.6" fill="none" stroke="#ffc0cb" stroke-width="1.6"/>
<circle cx="176.3" cy="378.3" r="2.6" fill="none" stroke="#ffc0cb" stroke-width="1.6"/>
<circle cx="230.1" cy="380.0" r="2.6" fill="none" stroke="#ffc0cb" stroke-width="1.6"/>
<path d="M283.9,381.4 L263.9,381.4 M263.9,381.4 l-2.7,-5.9" fill="none" stroke="#ffc0cb" stroke-width="2" stroke-linecap="square"/>
<path d="M337.7,382.4 L318.0,385.9 M318.0,385.9 l-3.7,-5.3" fill="none" stroke="#ffc0cb" stroke-width="2" stroke-linecap="square"/>
<path d="M391.5,383.1 L372.2,388.3 M372.2,388.3 l-7.1,-8.4 M375.9,387.3 l-4.2,-5.0" fill="none" stroke="#ff5a0a" stroke-width="2" stroke-linecap="square"/>
<path d="M445.3,383.5 L426.5,390.3 M426.5,390.3 l-7.8,-7.8 M430.1,389.0 l-4.6,-4.6" fill="none" stroke="#ff5a0a" stroke-width="2" stroke-linecap="square"/>
<path d="M499.1,383.5 L481.8,393.5 M481.8,393.5 l-9.0,-6.3 M485.1,391.6 l-5.3,-3.7" fill="none" stroke="#ff5a0a" stroke-width="2" stroke-linecap="square"/>
<path d="M552.9,383.1 L537.6,396.0 M537.6,396.0 l-10.0,-4.6 M540.5,393.5 l-5.9,-2.7" fill="none" stroke="#ff5a0a" stroke-width="2" stroke-linecap="square"/>
<path d="M606.7,382.4 L592.6,396.6 M592.6,396.6 l-10.3,-3.8 M595.2,393.9 l-6.1,-2.2" fill="none" stroke="#ff5a0a" stroke-width="2" stroke-linecap="square"/>
<path d="M660.5,381.4 L647.6,396.7 M647.6,396.7 l-10.6,-2.8 M650.1,393.8 l-6.3,-1.7" fill="none" stroke="#ff5a0a" stroke-width="2" stroke-linecap="square"/>
<path d="M714.3,380.0 L702.8,396.4 M702.8,396.4 l-10.8,-1.9 M705.0,393.3 l-6.4,-1.1" fill="none" stroke="#ff5a0a" stroke-width="2" stroke-linecap="square"/>
<path d="M768.1,378.3 L758.1,395.6 M758.1,395.6 l-11.0,-1.0 M760.0,392.3 l-11.0,-1.0" fill="none" stroke="#d81010" stroke-width="2" stroke-linecap="square"/>
<path d="M821.9,376.2 L811.9,393.5 M811.9,393.5 l-11.0,-1.0 M813.8,390.2 l-11.0,-1.0" fill="none" stroke="#d81010" stroke-width="2" stroke-linecap="square"/>
<path d="M875.7,373.8 L867.2,391.9 M867.2,391.9 l-11.0,0.0 M868.9,388.5 l-6.5,0.0" fill="none" stroke="#ff5a0a" stroke-width="2" stroke-linecap="square"/>
<path d="M929.5,371.0 L926.0,390.7 M926.0,390.7 l-10.6,2.8" fill="none" stroke="#ffc0cb" stroke-width="2" stroke-linecap="square"/>
<circle cx="10.5" cy="451.0" r="2.6" fill="none" stroke="#ffc0cb" stroke-width="1.6"/>
<path d="M64.8,453.8 L44.8,453.8 M44.8,453.8 l-2.7,-5.9" fill="none" stroke="#ffc0cb" stroke-width="2" stroke-linecap="square"/>
<path d="M119.1,456.2 L99.1,456.2 M99.1,456.2 l-2.7,-5.9" fill="none" stroke="#ffc0cb" stroke-width="2" stroke-linecap="square"/>
<path d="M173.4,458.3 L156.1,468.3 M156.1,468.3 l-5.3,-3.7" fill="none" stroke="#ffc0cb" stroke-width="2" stroke-linecap="square"/>
<path d="M227.7,460.0 L208.4,465.2 M208.4,465.2 l-4.2,-5.0" fill="none" stroke="#ffc0cb" stroke-width="2" stroke-linecap="square"/>
<path d="M282.0,461.4 L262.7,466.6 M262.7,466.6 l-7.1,-8.4" fill="none" stroke="#ff5a0a" stroke-width="2" stroke-linecap="square"/>
<path d="M336.3,462.4 L317.5,469.3 M317.5,469.3 l-7.8,-7.8 M321.1,468.0 l-4.6,-4.6" fill="none" stroke="#ff5a0a" stroke-width="2" stroke-linecap="square"/>
<path d="M390.6,463.1 L371.8,470.0 M371.8,470.0 l-7.8,-7.8 M375.4,468.7 l-7.8,-7.8" fill="none" stroke="#d81010" stroke-width="2" stroke-linecap="square"/>
<path d="M444.9,463.5 L426.8,471.9 M426.8,471.9 l-8.4,-7.1 M430.2,470.3 l-8.4,-7.1" fill="none" stroke="#d81010" stroke-width="2" stroke-linecap="square"/>
<path d="M499.2,463.5 L481.9,473.5 M481.9,473.5 l-9.0,-6.3 M485.2,471.6 l-9.0,-6.3" fill="none" stroke="#d81010" stroke-width="2" stroke-linecap="square"/>
<path d="M553.5,463.1 L538.2,476.0 M538.2,476.0 l-10.0,-4.6 M541.1,473.5 l-5.9,-2.7" fill="none" stroke="#ff5a0a" stroke-width="2" stroke-linecap="square"/>
<path d="M607.8,462.4 L593.7,476.6 M593.7,476.6 l-10.3,-3.8 M596.3,473.9 l-6.1,-2.2" fill="none" stroke="#ff5a0a" stroke-width="2" stroke-linecap="square"/>
<path d="M662.1,461.4 L649.2,476.7 M649.2,476.7 l-10.6,-2.8 M651.7,473.8 l-6.3,-1.7" fill="none" stroke="#ff5a0a" stroke-width="2" stroke-linecap="square"/>
<path d="M716.4,460.0 L704.9,476.4 M704.9,476.4 l-10.8,-1.9 M707.1,473.3 l-6.4,-1.1" fill="none" stroke="#ff5a0a" stroke-width="2" stroke-linecap="square"/>
<path d="M770.7,458.3 L760.7,475.6 M760.7,475.6 l-11.0,-1.0 M762.6,472.3 l-11.0,-1.0" fill="none" stroke="#d81010" stroke-width="2" stroke-linecap="square"/>
<path d="M825.0,456.2 L816.5,474.3 M816.5,474.3 l-11.0,0.0 M818.2,470.9 l-6.5,0.0" fill="none" stroke="#ff5a0a" stroke-width="2" stroke-linecap="square"/>
<path d="M879.3,453.8 L872.5,472.6 M872.5,472.6 l-11.0,1.0" fill="none" stroke="#ffc0cb" stroke-width="2" stroke-linecap="square"/>
<path d="M933.6,451.0 L930.1,470.7 M930.1,470.7 l-10.6,2.8" fill="none" stroke="#ffc0cb" stroke-width="2" stroke-linecap="square"/>
<path d="M60.9,533.8 L41.6,538.9 M41.6,538.9 l-7.1,-8.4" fill="none" stroke="#ff5a0a" stroke-width="2" stroke-linecap="square"/>
<path d="M115.7,536.2 L96.4,541.4 M96.4,541.4 l-7.1,-8.4" fill="none" stroke="#ff5a0a" stroke-width="2" stroke-linecap="square"/>
<path d="M170.5,538.3 L151.2,543.4 M151.2,543.4 l-7.1,-8.4" fill="none" stroke="#ff5a0a" stroke-width="2" stroke-linecap="square"/>
<path d="M225.3,540.0 L206.5,546.8 M206.5,546.8 l-7.8,-7.8 M210.1,545.5 l-7.8,-7.8" fill="none" stroke="#d81010" stroke-width="2" stroke-linecap="square"/>
<path d="M280.1,541.4 L261.3,548.2 M261.3,548.2 l-7.8,-7.8 M264.9,546.9 l-7.8,-7.8" fill="none" stroke="#d81010" stroke-width="2" stroke-linecap="square"/>
<path d="M334.9,542.4 L316.1,549.3 M316.1,549.3 l-7.8,-7.8 M319.7,548.0 l-7.8,-7.8" fill="none" stroke="#d81010" stroke-width="2" stroke-linecap="square"/>
<path d="M389.7,543.1 L370.9,550.0 M370.9,550.0 l-7.8,-7.8 M374.5,548.7 l-7.8,-7.8" fill="none" stroke="#d81010" stroke-width="2" stroke-linecap="square"/>
<path d="M444.5,543.5 L426.4,551.9 M426.4,551.9 l-8.4,-7.1 M429.8,550.3 l-8.4,-7.1" fill="none" stroke="#d81010" stroke-width="2" stroke-linecap="square"/>
<path d="M499.3,543.5 L482.0,553.5 M482.0,553.5 l-9.0,-6.3 M485.3,551.6 l-5.3,-3.7" fill="none" stroke="#ff5a0a" stroke-width="2" stroke-linecap="square"/>
<path d="M554.1,543.1 L538.8,556.0 M538.8,556.0 l-10.0,-4.6 M541.7,553.5 l-5.9,-2.7" fill="none" stroke="#ff5a0a" stroke-width="2" stroke-linecap="square"/>
<path d="M608.9,542.4 L594.8,556.6 M594.8,556.6 l-10.3,-3.8 M597.4,553.9 l-6.1,-2.2" fill="none" stroke="#ff5a0a" stroke-width="2" stroke-linecap="square"/>
<path d="M663.7,541.4 L652.2,557.8 M652.2,557.8 l-10.8,-1.9 M654.4,554.7 l-6.4,-1.1" fill="none" stroke="#ff5a0a" stroke-width="2" stroke-linecap="square"/>
<path d="M718.5,540.0 L708.5,557.3 M708.5,557.3 l-11.0,-1.0 M710.4,554.0 l-6.5,-0.6" fill="none" stroke="#ff5a0a" stroke-width="2" stroke-linecap="square"/>
<path d="M773.3,538.3 L764.8,556.4 M764.8,556.4 l-11.0,0.0 M766.5,552.9 l-11.0,0.0" fill="none" stroke="#d81010" stroke-width="2" stroke-linecap="square"/>
<path d="M828.1,536.2 L821.3,555.0 M821.3,555.0 l-11.0,1.0 M822.6,551.4 l-6.5,0.6" fill="none" stroke="#ff5a0a" stroke-width="2" stroke-linecap="square"/>
<circle cx="882.9" cy="533.8" r="2.6" fill="none" stroke="#ffc0cb" stroke-width="1.6"/>
<path d="M937.7,531.0 L924.8,546.3 M924.8,546.3 l-10.6,-2.8" fill="none" stroke="#ffc0cb" stroke-width="2" stroke-linecap="square"/>
<path d="M57.0,613.8 L37.7,618.9 M37.7,618.9 l-7.1,-8.4" fill="none" stroke="#ff5a0a" stroke-width="2" stroke-linecap="square"/>
<path d="M112.3,616.2 L93.5,623.0 M93.5,623.0 l-7.8,-7.8 M97.1,621.7 l-7.8,-7.8" fill="none" stroke="#d81010" stroke-width="2" stroke-linecap="square"/>
<path d="M167.6,618.3 L148.8,625.1 M148.8,625.1 l-7.8,-7.8 M152.4,623.8 l-7.8,-7.8" fill="none" stroke="#d81010" stroke-width="2" stroke-linecap="square"/>
<path d="M222.9,620.0 L204.1,626.8 M204.1,626.8 l-7.8,-7.8 M207.7,625.5 l-7.8,-7.8" fill="none" stroke="#d81010" stroke-width="2" stroke-linecap="square"/>
<path d="M278.2,621.4 L259.4,628.2 M259.4,628.2 l-7.8,-7.8 M263.0,626.9 l-7.8,-7.8" fill="none" stroke="#d81010" stroke-width="2" stroke-linecap="square"/>
<path d="M333.5,622.4 L314.7,629.3 M314.7,629.3 l-7.8,-7.8 M318.3,628.0 l-7.8,-7.8" fill="none" stroke="#d81010" stroke-width="2" stroke-linecap="square"/>
<path d="M388.8,623.1 L370.0,630.0 M370.0,630.0 l-7.8,-7.8 M373.6,628.7 l-4.6,-4.6" fill="none" stroke="#ff5a0a" stroke-width="2" stroke-linecap="square"/>
<path d="M444.1,623.5 L426.0,631.9 M426.0,631.9 l-8.4,-7.1 M429.4,630.3 l-5.0,-4.2" fill="none" stroke="#d81010" stroke-width="2" stroke-linecap="square"/>
<path d="M499.4,623.5 L483.0,634.9 M483.0,634.9 l-9.5,-5.5 M486.1,632.7 l-5.6,-3.3" fill="none" stroke="#ff5a0a" stroke-width="2" stroke-linecap="square"/>
<path d="M554.7,623.1 L540.6,637.3 M540.6,637.3 l-10.3,-3.8" fill="none" stroke="#ffc0cb" stroke-width="2" stroke-linecap="square"/>
<path d="M610.0,622.4 L597.1,637.7 M597.1,637.7 l-10.6,-2.8" fill="none" stroke="#ffc0cb" stroke-width="2" stroke-linecap="square"/>
<path d="M665.3,621.4 L656.8,639.5 M656.8,639.5 l-11.0,0.0 M658.5,636.1 l-6.5,0.0" fill="none" stroke="#ff5a0a" stroke-width="2" stroke-linecap="square"/>
<path d="M720.6,620.0 L713.8,638.8 M713.8,638.8 l-11.0,1.0 M715.1,635.2 l-11.0,1.0" fill="none" stroke="#d81010" stroke-width="2" stroke-linecap="square"/>
<path d="M775.9,618.3 L769.1,637.1 M769.1,637.1 l-11.0,1.0 M770.4,633.5 l-6.5,0.6" fill="none" stroke="#ff5a0a" stroke-width="2" stroke-linecap="square"/>
<path d="M831.2,616.2 L827.7,635.9 M827.7,635.9 l-10.6,2.8" fill="none" stroke="#ffc0cb" stroke-width="2" stroke-linecap="square"/>
<circle cx="886.5" cy="613.8" r="2.6" fill="none" stroke="#ffc0cb" stroke-width="1.6"/>
<line x1="887.2" y1="616.3" x2="890.4" y2="628.3" stroke="#ffc0cb" stroke-width="1.8"/>
<path d="M941.8,611.0 L931.8,628.3 M931.8,628.3 l-11.0,-1.0" fill="none" stroke="#ffc0cb" stroke-width="2" stroke-linecap="square"/>
<path d="M53.1,693.8 L40.2,709.1 M40.2,709.1 l-10.6,-2.8" fill="none" stroke="#ff5a0a" stroke-width="2" stroke-linecap="square"/>
<path d="M108.9,696.2 L93.6,709.0 M93.6,709.0 l-10.0,-4.6" fill="none" stroke="#ff5a0a" stroke-width="2" stroke-linecap="square"/>
<path d="M164.7,698.3 L147.4,708.3 M147.4,708.3 l-9.0,-6.3" fill="none" stroke="#ff5a0a" stroke-width="2" stroke-linecap="square"/>
<path d="M220.5,700.0 L202.4,708.4 M202.4,708.4 l-8.4,-7.1" fill="none" stroke="#ff5a0a" stroke-width="2" stroke-linecap="square"/>
<path d="M276.3,701.4 L258.2,709.8 M258.2,709.8 l-8.4,-7.1" fill="none" stroke="#ff5a0a" stroke-width="2" stroke-linecap="square"/>
<path d="M332.1,702.4 L314.0,710.9 M314.0,710.9 l-8.4,-7.1" fill="none" stroke="#ff5a0a" stroke-width="2" stroke-linecap="square"/>
<path d="M387.9,703.1 L370.6,713.1 M370.6,713.1 l-9.0,-6.3" fill="none" stroke="#ff5a0a" stroke-width="2" stroke-linecap="square"/>
<path d="M443.7,703.5 L427.3,714.9 M427.3,714.9 l-9.5,-5.5" fill="none" stroke="#ffc0cb" stroke-width="2" stroke-linecap="square"/>
<path d="M499.5,703.5 L486.6,718.8 M486.6,718.8 l-10.6,-2.8" fill="none" stroke="#ffc0cb" stroke-width="2" stroke-linecap="square"/>
<path d="M555.3,703.1 L543.8,719.5 M543.8,719.5 l-10.8,-1.9" fill="none" stroke="#ffc0cb" stroke-width="2" stroke-linecap="square"/>
<path d="M611.1,702.4 L602.6,720.5 M602.6,720.5 l-11.0,0.0" fill="none" stroke="#ffc0cb" stroke-width="2" stroke-linecap="square"/>
<path d="M666.9,701.4 L661.7,720.7 M661.7,720.7 l-10.8,1.9" fill="none" stroke="#ff5a0a" stroke-width="2" stroke-linecap="square"/>
<path d="M722.7,700.0 L719.2,719.7 M719.2,719.7 l-10.6,2.8 M719.9,716.0 l-10.6,2.8" fill="none" stroke="#d81010" stroke-width="2" stroke-linecap="square"/>
<path d="M778.5,698.3 L775.0,718.0 M775.0,718.0 l-10.6,2.8" fill="none" stroke="#ff5a0a" stroke-width="2" stroke-linecap="square"/>
<path d="M834.3,696.2 L830.8,715.9 M830.8,715.9 l-10.6,2.8" fill="none" stroke="#ffc0cb" stroke-width="2" stroke-linecap="square"/>
<circle cx="890.1" cy="693.8" r="2.6" fill="none" stroke="#ffc0cb" stroke-width="1.6"/>
<line x1="890.8" y1="696.3" x2="894.0" y2="708.3" stroke="#ffc0cb" stroke-width="1.8"/>
<circle cx="945.9" cy="691.0" r="2.6" fill="none" stroke="#ffc0cb" stroke-width="1.6"/>
<line x1="946.6" y1="693.5" x2="949.8" y2="705.5" stroke="#ffc0cb" stroke-width="1.8"/>
<path d="M49.2,773.8 L36.3,789.1 M36.3,789.1 l-10.6,-2.8" fill="none" stroke="#ff5a0a" stroke-width="2" stroke-linecap="square"/>
<path d="M105.5,776.2 L92.6,791.5 M92.6,791.5 l-10.6,-2.8" fill="none" stroke="#ff5a0a" stroke-width="2" stroke-linecap="square"/>
<path d="M161.8,778.3 L147.7,792.4 M147.7,792.4 l-10.3,-3.8" fill="none" stroke="#ff5a0a" stroke-width="2" stroke-linecap="square"/>
<path d="M218.1,780.0 L204.0,794.1 M204.0,794.1 l-10.3,-3.8" fill="none" stroke="#ffc0cb" stroke-width="2" stroke-linecap="square"/>
<path d="M274.4,781.4 L260.3,795.5 M260.3,795.5 l-10.3,-3.8" fill="none" stroke="#ffc0cb" stroke-width="2" stroke-linecap="square"/>
<path d="M330.7,782.4 L317.8,797.7 M317.8,797.7 l-10.6,-2.8" fill="none" stroke="#ffc0cb" stroke-width="2" stroke-linecap="square"/>
<path d="M387.0,783.1 L377.0,800.4 M377.0,800.4 l-11.0,-1.0" fill="none" stroke="#ffc0cb" stroke-width="2" stroke-linecap="square"/>
<path d="M443.3,783.5 L433.3,800.8 M433.3,800.8 l-11.0,-1.0" fill="none" stroke="#ffc0cb" stroke-width="2" stroke-linecap="square"/>
<path d="M499.6,783.5 L489.6,800.8 M489.6,800.8 l-11.0,-1.0" fill="none" stroke="#ffc0cb" stroke-width="2" stroke-linecap="square"/>
<circle cx="555.9" cy="783.1" r="2.6" fill="none" stroke="#ffc0cb" stroke-width="1.6"/>
<line x1="553.3" y1="783.1" x2="540.9" y2="783.1" stroke="#ffc0cb" stroke-width="1.8"/>
<path d="M612.2,782.4 L602.2,799.7 M602.2,799.7 l-11.0,-1.0" fill="none" stroke="#ffc0cb" stroke-width="2" stroke-linecap="square"/>
<path d="M668.5,781.4 L665.0,801.1 M665.0,801.1 l-10.6,2.8" fill="none" stroke="#ff5a0a" stroke-width="2" stroke-linecap="square"/>
<path d="M724.8,780.0 L721.3,799.7 M721.3,799.7 l-10.6,2.8 M722.0,796.0 l-6.3,1.7" fill="none" stroke="#ff5a0a" stroke-width="2" stroke-linecap="square"/>
<path d="M781.1,778.3 L774.3,797.1 M774.3,797.1 l-11.0,1.0" fill="none" stroke="#ff5a0a" stroke-width="2" stroke-linecap="square"/>
<path d="M837.4,776.2 L856.5,782.0 M856.5,782.0 l0.9,6.4" fill="none" stroke="#ffc0cb" stroke-width="2" stroke-linecap="square"/>
<circle cx="893.7" cy="773.8" r="2.6" fill="none" stroke="#ffc0cb" stroke-width="1.6"/>
<line x1="896.2" y1="774.3" x2="908.4" y2="776.9" stroke="#ffc0cb" stroke-width="1.8"/>
<circle cx="950.0" cy="771.0" r="2.6" fill="none" stroke="#ffc0cb" stroke-width="1.6"/>
<line x1="952.3" y1="772.1" x2="963.5" y2="777.6" stroke="#ffc0cb" stroke-width="1.8"/>
<path d="M102.1,856.2 L100.4,876.1 M100.4,876.1 l-10.3,3.8" fill="none" stroke="#ffc0cb" stroke-width="2" stroke-linecap="square"/>
<path d="M158.9,858.3 L157.2,878.2 M157.2,878.2 l-10.3,3.8" fill="none" stroke="#ffc0cb" stroke-width="2" stroke-linecap="square"/>
<path d="M215.7,860.0 L214.0,879.9 M214.0,879.9 l-10.3,3.8" fill="none" stroke="#ffc0cb" stroke-width="2" stroke-linecap="square"/>
<path d="M272.5,861.4 L270.8,881.3 M270.8,881.3 l-10.3,3.8" fill="none" stroke="#ffc0cb" stroke-width="2" stroke-linecap="square"/>
<path d="M329.3,862.4 L327.6,882.3 M327.6,882.3 l-10.3,3.8" fill="none" stroke="#ffc0cb" stroke-width="2" stroke-linecap="square"/>
<path d="M386.1,863.1 L384.4,883.0 M384.4,883.0 l-10.3,3.8" fill="none" stroke="#ffc0cb" stroke-width="2" stroke-linecap="square"/>
<path d="M442.9,863.5 L441.2,883.4 M441.2,883.4 l-10.3,3.8" fill="none" stroke="#ffc0cb" stroke-width="2" stroke-linecap="square"/>
<path d="M499.7,863.5 L489.7,880.8 M489.7,880.8 l-11.0,-1.0" fill="none" stroke="#ffc0cb" stroke-width="2" stroke-linecap="square"/>
<circle cx="556.5" cy="863.1" r="2.6" fill="none" stroke="#ffc0cb" stroke-width="1.6"/>
<line x1="553.9" y1="863.1" x2="541.5" y2="863.1" stroke="#ffc0cb" stroke-width="1.8"/>
<path d="M613.3,862.4 L593.3,862.4 M593.3,862.4 l-2.7,-5.9" fill="none" stroke="#ffc0cb" stroke-width="2" stroke-linecap="square"/>
<path d="M670.1,861.4 L666.6,881.1 M666.6,881.1 l-10.6,2.8" fill="none" stroke="#ffc0cb" stroke-width="2" stroke-linecap="square"/>
<path d="M726.9,860.0 L723.4,879.7 M723.4,879.7 l-10.6,2.8" fill="none" stroke="#ffc0cb" stroke-width="2" stroke-linecap="square"/>
<path d="M783.7,858.3 L780.2,878.0 M780.2,878.0 l-10.6,2.8" fill="none" stroke="#ffc0cb" stroke-width="2" stroke-linecap="square"/>
<path d="M840.5,856.2 L837.0,875.9 M837.0,875.9 l-10.6,2.8" fill="none" stroke="#ffc0cb" stroke-width="2" stroke-linecap="square"/>
<path d="M897.3,853.8 L893.8,873.5 M893.8,873.5 l-10.6,2.8" fill="none" stroke="#ffc0cb" stroke-width="2" stroke-linecap="square"/>
<path d="M954.1,851.0 L950.6,870.7 M950.6,870.7 l-10.6,2.8" fill="none" stroke="#ffc0cb" stroke-width="2" stroke-linecap="square"/>
<g transform="translate(909,20) rotate(-64)"><text x="0" y="5.3" text-anchor="middle" font-size="15" font-weight="bold" fill="#000">800</text></g>
<g transform="translate(931,268) rotate(-19)"><text x="0" y="5.3" text-anchor="middle" font-size="15" font-weight="bold" fill="#000">820</text></g>
<g transform="translate(935,738) rotate(-17)"><text x="0" y="5.3" text-anchor="middle" font-size="15" font-weight="bold" fill="#000">840</text></g>
<g transform="translate(665,10) rotate(-8)"><text x="0" y="4.5" text-anchor="middle" font-size="13" fill="#111">70</text></g>
<g transform="translate(614,41) rotate(0)"><text x="0" y="4.5" text-anchor="middle" font-size="13" fill="#111">75</text></g>
<g transform="translate(555,31) rotate(62)"><text x="0" y="4.5" text-anchor="middle" font-size="13" fill="#111">80</text></g>
<g transform="translate(560,89) rotate(22)"><text x="0" y="4.5" text-anchor="middle" font-size="13" fill="#111">85</text></g>
<g transform="translate(911,162) rotate(0)"><text x="0" y="4.5" text-anchor="middle" font-size="13" fill="#111">70</text></g>
<g transform="translate(914,237) rotate(-5)"><text x="0" y="4.5" text-anchor="middle" font-size="13" fill="#111">65</text></g>
<g transform="translate(940,284) rotate(52)"><text x="0" y="4.5" text-anchor="middle" font-size="13" fill="#111">60</text></g>
<g transform="translate(26,297) rotate(48)"><text x="0" y="4.5" text-anchor="middle" font-size="13" fill="#111">75</text></g>
<g transform="translate(49,462) rotate(-82)"><text x="0" y="4.5" text-anchor="middle" font-size="13" fill="#111">80</text></g>
<g transform="translate(49,696) rotate(84)"><text x="0" y="4.5" text-anchor="middle" font-size="13" fill="#111">85</text></g>
<g transform="translate(732,630) rotate(80)"><text x="0" y="4.5" text-anchor="middle" font-size="13" fill="#111">50</text></g>
<g transform="translate(841,766) rotate(-28)"><text x="0" y="4.5" text-anchor="middle" font-size="13" fill="#111">65</text></g>
<g transform="translate(894,701) rotate(-42)"><text x="0" y="4.5" text-anchor="middle" font-size="13" fill="#111">60</text></g>
<g transform="translate(85,880) rotate(-22)"><text x="0" y="4.5" text-anchor="middle" font-size="13" fill="#111">90</text></g>
<g transform="translate(52,141) rotate(-55)"><text x="0" y="4.5" text-anchor="middle" font-size="13" fill="#111">70</text></g>
<polygon points="447.5,295 456.9,304.4 447.2,313.9 440.1,303.9" fill="#fff" stroke="#000" stroke-width="1.2"/>
<defs><linearGradient id="lg" x1="0" y1="1" x2="1" y2="0"><stop offset="0" stop-color="#3a8fd0"/><stop offset="1" stop-color="#2ec48a"/></linearGradient></defs>
<rect x="12" y="844" width="44" height="43.5" rx="5" ry="5" fill="#e6e6ea"/>
<path d="M 17,880 A 19 17 0 0 0 51,873 A 17 18 0 0 0 32,849 A 15 14 0 0 0 19,868 A 10 9 0 0 0 38,871" fill="none" stroke="url(#lg)" stroke-width="6" opacity="0.9"/>
<path d="M 17,880 A 19 17 0 0 0 51,873 A 17 18 0 0 0 32,849 A 15 14 0 0 0 19,868 A 10 9 0 0 0 38,871" fill="none" stroke="#e6e6ea" stroke-width="0.7" stroke-dasharray="1 1.2" opacity="0.8"/>
<rect x="9.5" y="9.5" width="475.5" height="68" fill="rgba(10,10,140,0.6)" stroke="rgba(160,160,210,0.8)" stroke-width="1"/>
<g transform="translate(0,27.0) scale(1,1.11) translate(0,-27.0)"><text x="14.2" y="27.0" font-size="14.2" textLength="412.8" lengthAdjust="spacingAndGlyphs" font-family="Liberation Sans" fill="#ffffff">ECMWF-E RHU (%) [925 hPa] Sunday 02-11-2025 06:00 (+30h)</text></g>
<g transform="translate(0,48.2) scale(1,1.11) translate(0,-48.2)"><text x="14.2" y="48.2" font-size="14.2" textLength="462.6" lengthAdjust="spacingAndGlyphs" font-family="Liberation Sans" fill="#d8d8e8">ECMWF-E Geopotential (m) [925 hPa] Sunday 02-11-2025 06:00 (+30h)</text></g>
<g transform="translate(0,69.4) scale(1,1.11) translate(0,-69.4)"><text x="14.2" y="69.4" font-size="14.2" textLength="426.2" lengthAdjust="spacingAndGlyphs" font-family="Liberation Sans" fill="#d8d8e8">ECMWF-E Wind (m/s) [925 hPa] Sunday 02-11-2025 06:00 (+30h)</text></g>
<rect x="599.5" y="828.5" width="368.5" height="61" fill="rgba(255,255,255,0.6)" stroke="#000" stroke-width="1"/>
<rect x="672.5" y="836.5" width="19" height="21.5" fill="#ffffff" stroke="#000" stroke-width="1"/>
<rect x="691.5" y="836.5" width="19" height="21.5" fill="#ffffff" stroke="#000" stroke-width="1"/>
<rect x="710.5" y="836.5" width="19" height="21.5" fill="#ffffff" stroke="#000" stroke-width="1"/>
<rect x="729.5" y="836.5" width="19" height="21.5" fill="#ffffff" stroke="#000" stroke-width="1"/>
<rect x="748.5" y="836.5" width="19" height="21.5" fill="#ffffff" stroke="#000" stroke-width="1"/>
<rect x="767.5" y="836.5" width="19" height="21.5" fill="#f5deb3" stroke="#000" stroke-width="1"/>
<rect x="786.5" y="836.5" width="19" height="21.5" fill="#fa8200" stroke="#000" stroke-width="1"/>
<rect x="805.5" y="836.5" width="19" height="21.5" fill="#f8f800" stroke="#000" stroke-width="1"/>
<rect x="824.5" y="836.5" width="19" height="21.5" fill="#1ec9cf" stroke="#000" stroke-width="1"/>
<rect x="843.5" y="836.5" width="19" height="21.5" fill="#1ba6a9" stroke="#000" stroke-width="1"/>
<rect x="862.5" y="836.5" width="19" height="21.5" fill="#0a6ee0" stroke="#000" stroke-width="1"/>
<rect x="881.5" y="836.5" width="19" height="21.5" fill="#0a4eab" stroke="#000" stroke-width="1"/>
<rect x="900.5" y="836.5" width="19" height="21.5" fill="#082f6b" stroke="#000" stroke-width="1"/>
<rect x="919.5" y="836.5" width="19" height="21.5" fill="#a8a8a8" stroke="#000" stroke-width="1"/>
<rect x="938.5" y="836.5" width="19" height="21.5" fill="#595959" stroke="#000" stroke-width="1"/>
<line x1="691.5" y1="858" x2="691.5" y2="862" stroke="#000" stroke-width="1"/>
<text x="691.5" y="877" text-anchor="middle" font-size="12" font-family="Liberation Sans" fill="#000">10</text>
<line x1="710.5" y1="858" x2="710.5" y2="862" stroke="#000" stroke-width="1"/>
<text x="710.5" y="877" text-anchor="middle" font-size="12" font-family="Liberation Sans" fill="#000">20</text>
<line x1="729.5" y1="858" x2="729.5" y2="862" stroke="#000" stroke-width="1"/>
<text x="729.5" y="877" text-anchor="middle" font-size="12" font-family="Liberation Sans" fill="#000">30</text>
<line x1="748.5" y1="858" x2="748.5" y2="862" stroke="#000" stroke-width="1"/>
<text x="748.5" y="877" text-anchor="middle" font-size="12" font-family="Liberation Sans" fill="#000">40</text>
<line x1="767.5" y1="858" x2="767.5" y2="862" stroke="#000" stroke-width="1"/>
<text x="767.5" y="877" text-anchor="middle" font-size="12" font-family="Liberation Sans" fill="#000">50</text>
<line x1="786.5" y1="858" x2="786.5" y2="862" stroke="#000" stroke-width="1"/>
<text x="786.5" y="877" text-anchor="middle" font-size="12" font-family="Liberation Sans" fill="#000">55</text>
<line x1="805.5" y1="858" x2="805.5" y2="862" stroke="#000" stroke-width="1"/>
<text x="805.5" y="877" text-anchor="middle" font-size="12" font-family="Liberation Sans" fill="#000">60</text>
<line x1="824.5" y1="858" x2="824.5" y2="862" stroke="#000" stroke-width="1"/>
<text x="824.5" y="877" text-anchor="middle" font-size="12" font-family="Liberation Sans" fill="#000">65</text>
<line x1="843.5" y1="858" x2="843.5" y2="862" stroke="#000" stroke-width="1"/>
<text x="843.5" y="877" text-anchor="middle" font-size="12" font-family="Liberation Sans" fill="#000">70</text>
<line x1="862.5" y1="858" x2="862.5" y2="862" stroke="#000" stroke-width="1"/>
<text x="862.5" y="877" text-anchor="middle" font-size="12" font-family="Liberation Sans" fill="#000">75</text>
<line x1="881.5" y1="858" x2="881.5" y2="862" stroke="#000" stroke-width="1"/>
<text x="881.5" y="877" text-anchor="middle" font-size="12" font-family="Liberation Sans" fill="#000">80</text>
<line x1="900.5" y1="858" x2="900.5" y2="862" stroke="#000" stroke-width="1"/>
<text x="900.5" y="877" text-anchor="middle" font-size="12" font-family="Liberation Sans" fill="#000">85</text>
<line x1="919.5" y1="858" x2="919.5" y2="862" stroke="#000" stroke-width="1"/>
<text x="919.5" y="877" text-anchor="middle" font-size="12" font-family="Liberation Sans" fill="#000">90</text>
<line x1="938.5" y1="858" x2="938.5" y2="862" stroke="#000" stroke-width="1"/>
<text x="938.5" y="877" text-anchor="middle" font-size="12" font-family="Liberation Sans" fill="#000">95</text>
<line x1="957.5" y1="858" x2="957.5" y2="862" stroke="#000" stroke-width="1"/>
<text x="957.5" y="877" text-anchor="middle" font-size="12" font-family="Liberation Sans" fill="#000">100</text>
<text x="636" y="849" text-anchor="middle" font-size="12" font-family="Liberation Sans">ECMWF-E</text>
<text x="636" y="865" text-anchor="middle" font-size="12" font-family="Liberation Sans">RHU</text>
<text x="636" y="881" text-anchor="middle" font-size="12" font-family="Liberation Sans">%</text>
</svg>
</body></html>
